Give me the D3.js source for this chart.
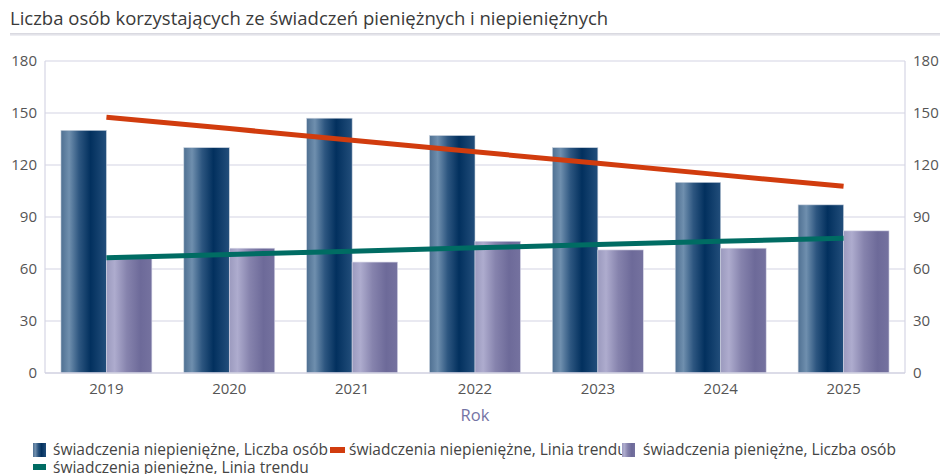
<!DOCTYPE html>
<html><head><meta charset="utf-8">
<script src="https://cdn.jsdelivr.net/npm/d3@7"></script>
<style>
html,body{margin:0;padding:0;background:#fff;}
svg{display:block;font-family:"Open Sans",sans-serif;}
</style></head>
<body><svg id="c" width="944" height="474"></svg>
<script>
const title = "Liczba osób korzystających ze świadczeń pieniężnych i niepieniężnych";
const years = ["2019","2020","2021","2022","2023","2024","2025"];
const niepieniezne = [140,130,147,137,130,110,97];
const pieniezne = [66,72,64,76,71,72,82];
const trendNiepieniezne = [147.5,141,134.3,127.6,121,114.3,107.7];
const trendPieniezne = [66.5,68.4,70.3,72.2,74.1,76,77.8];
const yTicks = [0,30,60,90,120,150,180];
const xTitle = "Rok";
const legendLabels = ["świadczenia niepieniężne, Liczba osób","świadczenia niepieniężne, Linia trendu","świadczenia pieniężne, Liczba osób","świadczenia pieniężne, Linia trendu"];

const svg = d3.select("#c");
const defs = svg.append("defs");
function grad(id, stops){
  const g = defs.append("linearGradient").attr("id",id).attr("x1","0").attr("x2","1").attr("y1","0").attr("y2","0");
  stops.forEach(s=>g.append("stop").attr("offset",s[0]).attr("stop-color",s[1]));
}
grad("gDark",[[0,"#4f7092"],[0.18,"#6f8fae"],[0.4,"#2d5680"],[0.65,"#02305e"],[1,"#224e7b"]]);
grad("gLight",[[0,"#9b9abe"],[0.18,"#aeacce"],[0.45,"#8683ad"],[0.75,"#6d6a99"],[1,"#75729f"]]);
const sep = defs.append("linearGradient").attr("id","gSep").attr("x1","0").attr("x2","0").attr("y1","0").attr("y2","1");
sep.append("stop").attr("offset",0).attr("stop-color","#d4d4dc");
sep.append("stop").attr("offset",1).attr("stop-color","#f2f2f6");

svg.append("text").attr("x",10).attr("y",25).attr("fill","#3a3a3a")
  .style("font-size","18.5px").text(title);
svg.append("rect").attr("x",10).attr("y",33).attr("width",930).attr("height",3).attr("fill","url(#gSep)");

const L=45, R=905, T=61, B=373;
const y = d3.scaleLinear().domain([0,180]).range([B,T]);
const x = d3.scaleBand().domain(years).range([L,R]).paddingInner(0.26).paddingOuter(0.13);
const sub = d3.scaleBand().domain(["n","p"]).range([0,x.bandwidth()]);

// gridlines
svg.append("g").selectAll("line").data(yTicks.filter(t=>t>0)).join("line")
  .attr("x1",L).attr("x2",R).attr("y1",d=>y(d)).attr("y2",d=>y(d))
  .attr("stroke","#e2e2ec").attr("stroke-width",1.5);
// frame
svg.append("line").attr("x1",L).attr("x2",L).attr("y1",T).attr("y2",B).attr("stroke","#d6d6e4").attr("stroke-width",1.2);
svg.append("line").attr("x1",R).attr("x2",R).attr("y1",T).attr("y2",B).attr("stroke","#d6d6e4").attr("stroke-width",1.2);

// bars
const g = svg.append("g");
g.selectAll("rect.n").data(years).join("rect").attr("class","n")
  .attr("x",d=>x(d)+sub("n")).attr("width",sub.bandwidth())
  .attr("y",(d,i)=>y(niepieniezne[i])).attr("height",(d,i)=>B-y(niepieniezne[i]))
  .attr("fill","url(#gDark)").attr("stroke","#c9d2de").attr("stroke-width",0.6);
g.selectAll("rect.p").data(years).join("rect").attr("class","p")
  .attr("x",d=>x(d)+sub("p")).attr("width",sub.bandwidth())
  .attr("y",(d,i)=>y(pieniezne[i])).attr("height",(d,i)=>B-y(pieniezne[i]))
  .attr("fill","url(#gLight)").attr("stroke","#d6d6e6").attr("stroke-width",0.6);

// bottom axis line
svg.append("line").attr("x1",L).attr("x2",R).attr("y1",B).attr("y2",B).attr("stroke","#d0d0e0").attr("stroke-width",1.5);

// trend lines
const cx = d=>x(d)+x.bandwidth()/2;
const line = arr => d3.line().x((d,i)=>cx(years[i])).y(d=>y(d))(arr);
svg.append("path").attr("d",line(trendNiepieniezne)).attr("fill","none").attr("stroke","#d13c0e").attr("stroke-width",5);
svg.append("path").attr("d",line(trendPieniezne)).attr("fill","none").attr("stroke","#006c63").attr("stroke-width",5);

// axes
const axL = d3.axisLeft(y).tickValues(yTicks).tickSize(0).tickPadding(8);
const axR = d3.axisRight(y).tickValues(yTicks).tickSize(0).tickPadding(8);
const gl = svg.append("g").attr("transform",`translate(${L},0)`).call(axL);
const gr = svg.append("g").attr("transform",`translate(${R},0)`).call(axR);
[gl,gr].forEach(a=>{a.select(".domain").remove();a.selectAll("text").attr("fill","#555").style("font-size","15px").style("font-family","Open Sans");});
const gx = svg.append("g").attr("transform",`translate(0,${B})`).call(d3.axisBottom(x).tickSize(0).tickPadding(10));
gx.select(".domain").remove();
gx.selectAll("text").attr("fill","#555").style("font-size","15px").style("font-family","Open Sans");

svg.append("text").attr("x",(L+R)/2).attr("y",421).attr("text-anchor","middle")
  .attr("fill","#7474a4").style("font-size","16.5px").text(xTitle);

// legend
const lg = svg.append("g").style("font-size","15.5px").attr("fill","#444");
const leg = [
  {x:33,y:443,w:13,h:14,fill:"url(#gDark)",tx:53,ty:455},
  {x:330,y:447,w:15,h:6,fill:"#d13c0e",tx:349,ty:455},
  {x:622,y:443,w:13,h:14,fill:"url(#gLight)",tx:643,ty:455},
  {x:33,y:464,w:13,h:6,fill:"#006c63",tx:53,ty:473}
];
leg.forEach((d,i)=>{
  lg.append("rect").attr("x",d.x).attr("y",d.y).attr("width",d.w).attr("height",d.h).attr("fill",d.fill);
  lg.append("text").attr("x",d.tx).attr("y",d.ty).attr("fill","#444").text(legendLabels[i]);
});
</script></body></html>
